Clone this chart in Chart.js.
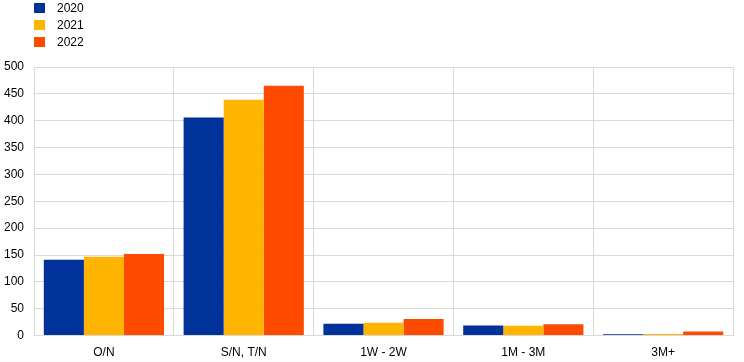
<!DOCTYPE html>
<html>
<head>
<meta charset="utf-8">
<script src="https://cdn.jsdelivr.net/npm/chart.js@4/dist/chart.umd.min.js"></script>
<style>
    html, body { margin: 0; padding: 0; background: #fff; }
    #wrap { position: relative; width: 744px; height: 362px; overflow: hidden; }
    #legend { position: absolute; left: 34px; top: 0; font: 12px "Liberation Sans", Arial, sans-serif; color: #000; }
    #legend div { height: 16.7px; display: flex; align-items: center; }
    #legend span.box { display: inline-block; width: 11px; height: 10px; margin-right: 12px; }
</style>
</head>
<body>
<div id="wrap">
    <div id="legend"></div>
    <canvas id="chart" width="744" height="370"></canvas>
</div>
<script>
// data
const categories = ['O/N', 'S/N, T/N', '1W - 2W', '1M - 3M', '3M+'];
const seriesNames = ['2020', '2021', '2022'];
const values2020 = [141, 406, 22, 19, 2.5];
const values2021 = [147, 439, 24, 18.5, 3];
const values2022 = [152, 465, 31, 21, 7.5];
const yTicks = [0, 50, 100, 150, 200, 250, 300, 350, 400, 450, 500];

const colors = ['#003299', '#FFB400', '#FF4B00'];
const allValues = [values2020, values2021, values2022];

const datasets = seriesNames.map((name, i) => ({
    label: name,
    data: allValues[i],
    backgroundColor: colors[i],
    borderWidth: 0,
    categoryPercentage: 0.86,
    barPercentage: 1.0
}));

// legend drawn as html, stacked vertically like the original
const legendEl = document.getElementById('legend');
datasets.forEach(ds => {
    const row = document.createElement('div');
    row.innerHTML = `<span class="box" style="background:${ds.backgroundColor}"></span>${ds.label}`;
    legendEl.appendChild(row);
});

const ctx = document.getElementById('chart').getContext('2d');
new Chart(ctx, {
    type: 'bar',
    data: { labels: categories, datasets: datasets },
    options: {
        responsive: false,
        animation: false,
        layout: { padding: { top: 67, right: 11, left: -6, bottom: 0 } },
        plugins: {
            legend: { display: false },
            tooltip: { enabled: false }
        },
        scales: {
            x: {
                grid: { color: '#d9d9d9', drawTicks: false, offset: true },
                border: { color: '#d9d9d9' },
                ticks: { color: '#000', font: { family: '"Liberation Sans", Arial', size: 12 }, padding: 10 }
            },
            y: {
                min: 0,
                max: 500,
                afterBuildTicks: (axis) => { axis.ticks = yTicks.map(v => ({ value: v })); },
                grid: { color: '#d9d9d9', drawTicks: false },
                border: { color: '#d9d9d9' },
                ticks: { color: '#000', font: { family: '"Liberation Sans", Arial', size: 12 }, padding: 10 }
            }
        }
    }
});
</script>
</body>
</html>
